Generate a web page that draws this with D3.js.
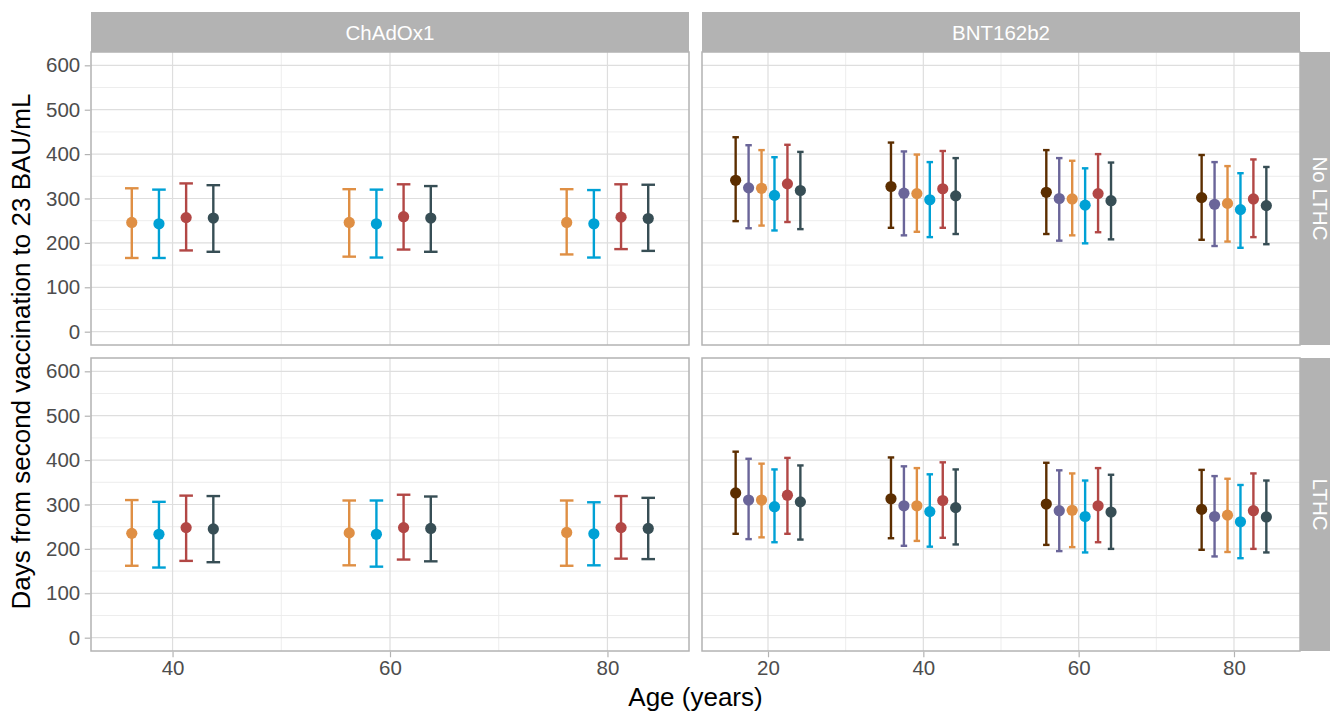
<!DOCTYPE html>
<html>
<head>
<meta charset="utf-8">
<script src="https://cdn.jsdelivr.net/npm/d3@7"></script>
<style>
  html, body { margin: 0; padding: 0; background: #fff; }
  svg { display: block; font-family: "Liberation Sans", Arial, Helvetica, sans-serif; }
</style>
</head>
<body>
<svg id="chart" width="1330" height="712"></svg>
<script>
// Facets
const vaccines = ["ChAdOx1", "BNT162b2"];
const lthcRows = ["No LTHC", "LTHC"];

// Groups (colour order, left to right within each age)
const groupIds = ["g1", "g2", "g3", "g4", "g5", "g6"];
const groupColors = ["#5C2E00", "#6A6599", "#DF8F44", "#00A1D5", "#B24745", "#374E55"];

// Ages shown per vaccine, and which groups each vaccine has
const azAges = [40, 60, 80];
const bntAges = [20, 40, 60, 80];
const azGroups = ["g3", "g4", "g5", "g6"];
const bntGroups = ["g1", "g2", "g3", "g4", "g5", "g6"];

// ChAdOx1, No LTHC: rows = ages, columns = groups (estimate / lower / upper, days)
const azNoEst = [[246, 243, 257, 256], [246, 243, 259, 256], [246, 243, 258, 255]];
const azNoLo  = [[166, 166, 183, 180], [169, 167, 185, 180], [174, 167, 186, 182]];
const azNoHi  = [[323, 320, 334, 330], [321, 320, 332, 328], [321, 319, 332, 331]];

// ChAdOx1, LTHC
const azLtEst = [[235, 233, 248, 245], [236, 233, 248, 246], [237, 234, 248, 246]];
const azLtLo  = [[162, 158, 173, 170], [163, 160, 176, 172], [162, 163, 178, 177]];
const azLtHi  = [[310, 306, 320, 319], [309, 309, 322, 318], [309, 305, 319, 315]];

// BNT162b2, No LTHC
const bntNoEst = [[341, 324, 323, 307, 333, 318], [327, 312, 311, 297, 322, 306], [314, 300, 299, 285, 311, 295], [302, 287, 289, 275, 299, 284]];
const bntNoLo  = [[249, 233, 239, 228, 247, 231], [234, 217, 225, 213, 234, 220], [220, 205, 217, 199, 224, 208], [207, 193, 203, 189, 213, 197]];
const bntNoHi  = [[438, 420, 409, 393, 421, 405], [426, 406, 399, 382, 407, 391], [409, 391, 385, 368, 400, 381], [398, 382, 373, 357, 388, 371]];

// BNT162b2, LTHC
const bntLtEst = [[326, 310, 310, 295, 321, 306], [313, 297, 297, 284, 309, 293], [301, 286, 287, 273, 297, 283], [289, 273, 276, 261, 286, 272]];
const bntLtLo  = [[234, 222, 226, 215, 234, 221], [224, 207, 218, 205, 225, 210], [209, 195, 204, 192, 215, 200], [198, 183, 193, 179, 200, 192]];
const bntLtHi  = [[419, 403, 392, 379, 405, 388], [406, 386, 382, 368, 395, 379], [394, 377, 370, 354, 382, 367], [378, 364, 358, 344, 370, 354]];

const yMajor = [0, 100, 200, 300, 400, 500, 600];
const yMinor = [50, 150, 250, 350, 450, 550];
const xMajor = [[40, 60, 80], [20, 40, 60, 80]];
const xMinor = [[50, 70], [30, 50, 70]];

// Layout
const colX = [[91, 689], [702, 1300]];
const rowY = [[52, 345], [358, 651]];
const stripTop = 12;
const stripRight = 1340;

const dodgeWidth = 10;
const capWidth = 5;

const tickFont = "20.5px";
const titleFont = "26px";
const tickColor = "#B3B3B3";
const labelColor = "#4D4D4D";

const svg = d3.select("#chart");

const yScales = rowY.map(r => d3.scaleLinear().domain([-30, 630]).range([r[1], r[0]]));
const xScales = [
  d3.scaleLinear().domain([32.5, 87.5]).range(colX[0]),
  d3.scaleLinear().domain([11.5, 88.5]).range(colX[1])
];

const panelData = [
  [{ ages: azAges, groups: azGroups, est: azNoEst, lo: azNoLo, hi: azNoHi },
   { ages: bntAges, groups: bntGroups, est: bntNoEst, lo: bntNoLo, hi: bntNoHi }],
  [{ ages: azAges, groups: azGroups, est: azLtEst, lo: azLtLo, hi: azLtHi },
   { ages: bntAges, groups: bntGroups, est: bntLtEst, lo: bntLtLo, hi: bntLtHi }]
];

const colorOf = d3.scaleOrdinal().domain(groupIds).range(groupColors);

lthcRows.forEach((rowName, ri) => {
  vaccines.forEach((vacName, ci) => {
    const x = xScales[ci], y = yScales[ri];
    const [x0, x1] = colX[ci], [y0, y1] = rowY[ri];
    const g = svg.append("g");

    g.append("rect").attr("x", x0).attr("y", y0).attr("width", x1 - x0).attr("height", y1 - y0)
      .attr("fill", "#fff");

    // minor grid
    g.selectAll(null).data(yMinor).enter().append("line")
      .attr("x1", x0).attr("x2", x1).attr("y1", d => y(d)).attr("y2", d => y(d))
      .attr("stroke", "#EBEBEB").attr("stroke-width", 0.9);
    g.selectAll(null).data(xMinor[ci]).enter().append("line")
      .attr("y1", y0).attr("y2", y1).attr("x1", d => x(d)).attr("x2", d => x(d))
      .attr("stroke", "#EBEBEB").attr("stroke-width", 0.9);
    // major grid
    g.selectAll(null).data(yMajor).enter().append("line")
      .attr("x1", x0).attr("x2", x1).attr("y1", d => y(d)).attr("y2", d => y(d))
      .attr("stroke", "#DEDEDE").attr("stroke-width", 1.2);
    g.selectAll(null).data(xMajor[ci]).enter().append("line")
      .attr("y1", y0).attr("y2", y1).attr("x1", d => x(d)).attr("x2", d => x(d))
      .attr("stroke", "#DEDEDE").attr("stroke-width", 1.2);

    // error bars and points
    const pd = panelData[ri][ci];
    const n = pd.groups.length;
    const rows = [];
    pd.ages.forEach((age, ai) => {
      pd.groups.forEach((gid, gi) => {
        rows.push({
          gid,
          xc: age + dodgeWidth * ((gi + 0.5) / n - 0.5),
          half: capWidth / n / 2,
          est: pd.est[ai][gi], lo: pd.lo[ai][gi], hi: pd.hi[ai][gi]
        });
      });
    });

    const eb = g.selectAll(null).data(rows).enter().append("g");
    eb.append("line")
      .attr("x1", d => x(d.xc)).attr("x2", d => x(d.xc))
      .attr("y1", d => y(d.lo)).attr("y2", d => y(d.hi))
      .attr("stroke", d => colorOf(d.gid)).attr("stroke-width", 2.4);
    eb.append("line")
      .attr("x1", d => x(d.xc - d.half)).attr("x2", d => x(d.xc + d.half))
      .attr("y1", d => y(d.hi)).attr("y2", d => y(d.hi))
      .attr("stroke", d => colorOf(d.gid)).attr("stroke-width", 2.4);
    eb.append("line")
      .attr("x1", d => x(d.xc - d.half)).attr("x2", d => x(d.xc + d.half))
      .attr("y1", d => y(d.lo)).attr("y2", d => y(d.lo))
      .attr("stroke", d => colorOf(d.gid)).attr("stroke-width", 2.4);
    eb.append("circle")
      .attr("cx", d => x(d.xc)).attr("cy", d => y(d.est)).attr("r", 5.6)
      .attr("fill", d => colorOf(d.gid));

    // border
    g.append("rect").attr("x", x0).attr("y", y0).attr("width", x1 - x0).attr("height", y1 - y0)
      .attr("fill", "none").attr("stroke", "#B3B3B3").attr("stroke-width", 1.5);

    // y axis on left column
    if (ci === 0) {
      const ax = svg.append("g").attr("transform", `translate(${x0 - 0.75},0)`)
        .call(d3.axisLeft(y).tickValues(yMajor).tickSize(5.5).tickPadding(4.5));
      ax.select(".domain").remove();
      ax.selectAll(".tick line").attr("stroke", tickColor).attr("stroke-width", 1.2);
      ax.selectAll(".tick text").attr("fill", labelColor)
        .attr("font-size", null).attr("font-family", null)
        .style("font-size", tickFont);
      ax.attr("font-size", null).attr("font-family", null);
    }
    // x axis on bottom row
    if (ri === lthcRows.length - 1) {
      const ax = svg.append("g").attr("transform", `translate(0,${y1 + 0.75})`)
        .call(d3.axisBottom(x).tickValues(xMajor[ci]).tickSize(5.5).tickPadding(3));
      ax.select(".domain").remove();
      ax.selectAll(".tick line").attr("stroke", tickColor).attr("stroke-width", 1.2);
      ax.selectAll(".tick text").attr("fill", labelColor)
        .style("font-size", tickFont);
      ax.attr("font-size", null).attr("font-family", null);
    }
  });
});

// top strips
vaccines.forEach((name, ci) => {
  const [x0, x1] = colX[ci];
  svg.append("rect").attr("x", x0).attr("y", stripTop).attr("width", x1 - x0).attr("height", rowY[0][0] - stripTop)
    .attr("fill", "#B3B3B3");
  svg.append("text").attr("x", (x0 + x1) / 2).attr("y", (stripTop + rowY[0][0]) / 2)
    .attr("text-anchor", "middle").attr("dominant-baseline", "central")
    .attr("fill", "#fff").style("font-size", tickFont).text(name);
});

// right strips
lthcRows.forEach((name, ri) => {
  const [y0, y1] = rowY[ri];
  const xs = colX[1][1];
  svg.append("rect").attr("x", xs).attr("y", y0).attr("width", stripRight - xs).attr("height", y1 - y0)
    .attr("fill", "#B3B3B3");
  const cx = xs + (rowY[0][0] - stripTop) / 2, cy = (y0 + y1) / 2;
  svg.append("text").attr("transform", `translate(${cx},${cy}) rotate(90)`)
    .attr("text-anchor", "middle").attr("dominant-baseline", "central")
    .attr("fill", "#fff").style("font-size", tickFont).text(name);
});

// axis titles
svg.append("text").attr("x", (colX[0][0] + colX[1][1]) / 2).attr("y", 706)
  .attr("text-anchor", "middle").attr("fill", "#000").style("font-size", titleFont).text("Age (years)");
svg.append("text").attr("transform", `translate(30,${(rowY[0][0] + rowY[1][1]) / 2}) rotate(-90)`)
  .attr("text-anchor", "middle").attr("fill", "#000").style("font-size", titleFont)
  .text("Days from second vaccination to 23 BAU/mL");
</script>
</body>
</html>
